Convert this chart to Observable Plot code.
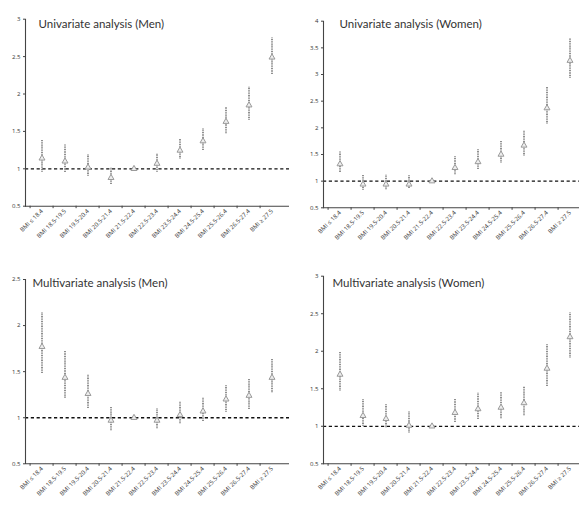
<!DOCTYPE html>
<html><head><meta charset="utf-8">
<script src="https://cdn.jsdelivr.net/npm/d3@7"></script>
<script src="https://cdn.jsdelivr.net/npm/@observablehq/plot@0.6"></script>
<style>
body{margin:0;background:#fff;}
#wrap{position:relative;width:579px;height:513px;overflow:hidden;background:#fff;}
.panel{position:absolute;overflow:hidden;}
</style></head><body><div id="wrap"></div>
<script>
const categories = ["BMI ≤ 18.4","BMI 18.5-19.5","BMI 19.5-20.4","BMI 20.5-21.4","BMI 21.5-22.4","BMI 22.5-23.4","BMI 23.5-24.4","BMI 24.5-25.4","BMI 25.5-26.4","BMI 26.5-27.4","BMI ≥ 27.5"];
const titles = ["Univariate analysis (Men)","Univariate analysis (Women)","Multivariate analysis (Men)","Multivariate analysis (Women)"];

const uniMenOR = [1.14,1.10,1.02,0.88,1.00,1.07,1.245,1.37,1.63,1.85,2.49];
const uniMenLo = [0.955,0.95,0.90,0.79,1.00,0.955,1.13,1.245,1.47,1.65,2.26];
const uniMenHi = [1.39,1.32,1.19,1.01,1.00,1.20,1.40,1.535,1.82,2.09,2.75];

const uniWomenOR = [1.32,0.94,0.94,0.94,1.00,1.25,1.36,1.50,1.67,2.37,3.26];
const uniWomenLo = [1.16,0.83,0.84,0.86,1.00,1.12,1.22,1.34,1.47,2.07,2.93];
const uniWomenHi = [1.55,1.11,1.11,1.10,1.00,1.46,1.59,1.75,1.95,2.77,3.67];

const multiMenOR = [1.77,1.435,1.26,0.97,1.00,0.97,1.03,1.07,1.20,1.24,1.435];
const multiMenLo = [1.48,1.21,1.10,0.86,1.00,0.88,0.935,0.96,1.06,1.09,1.27];
const multiMenHi = [2.14,1.72,1.47,1.116,1.00,1.10,1.17,1.21,1.35,1.42,1.64];

const multiWomenOR = [1.69,1.14,1.10,1.01,1.00,1.18,1.23,1.25,1.31,1.77,2.19];
const multiWomenLo = [1.47,1.00,0.98,0.91,1.00,1.05,1.09,1.10,1.14,1.53,1.91];
const multiWomenHi = [1.99,1.36,1.29,1.19,1.00,1.36,1.44,1.45,1.53,2.09,2.51];

const yTicksUniMen = [0.5,1,1.5,2,2.5,3];
const yTicksUniWomen = [0.5,1,1.5,2,2.5,3,3.5,4];
const yTicksMultiMen = [0.5,1,1.5,2,2.5];
const yTicksMultiWomen = [0.5,1,1.5,2,2.5,3];

const panels = [
  {title:titles[0], or:uniMenOR, lo:uniMenLo, hi:uniMenHi, ticks:yTicksUniMen,
   left:0, top:0, width:289, height:255, mTop:18.7, mBottom:49.3, mLeft:25, xEnd:287, tx:38, ty:27},
  {title:titles[1], or:uniWomenOR, lo:uniWomenLo, hi:uniWomenHi, ticks:yTicksUniWomen,
   left:289, top:0, width:290, height:255, mTop:20.7, mBottom:47.7, mLeft:34, xEnd:296, tx:50, ty:27},
  {title:titles[2], or:multiMenOR, lo:multiMenLo, hi:multiMenHi, ticks:yTicksMultiMen,
   left:0, top:255, width:289, height:258, mTop:24, mBottom:49.7, mLeft:25, xEnd:287, tx:32, ty:31},
  {title:titles[3], or:multiWomenOR, lo:multiWomenLo, hi:multiWomenHi, ticks:yTicksMultiWomen,
   left:289, top:255, width:290, height:258, mTop:20.7, mBottom:49.7, mLeft:34, xEnd:296, tx:43, ty:31}
];

const wrap = document.getElementById("wrap");
for (const p of panels) {
  const data = categories.map((c, i) => ({cat: c, or: p.or[i], lo: p.lo[i], hi: p.hi[i]}));
  const bw = (p.xEnd - p.mLeft) / categories.length;
  const chart = Plot.plot({
    width: p.width, height: p.height,
    marginLeft: p.mLeft, marginRight: 0, marginTop: p.mTop, marginBottom: p.mBottom,
    style: {fontFamily: "'Open Sans', sans-serif", background: "transparent", overflow: "visible"},
    x: {type: "band", domain: categories, range: [p.mLeft, p.xEnd], padding: 0, axis: null, label: null},
    y: {domain: [0.5, d3.max(p.ticks)], axis: null, label: null},
    marks: [
      Plot.ruleY([1], {stroke: "#111", strokeWidth: 1.3, strokeDasharray: "3.2,2.6"}),
      Plot.ruleX(data, {x: "cat", y1: "lo", y2: "hi", stroke: "#555", strokeWidth: 1.3, strokeDasharray: "1,0.7"}),
      Plot.dot(data, {x: "cat", y: "or", symbol: "triangle", r: 2.2, stroke: "#9a9a9a", fill: "#eeeeee", strokeWidth: 1}),
      Plot.frame({anchor: "left", stroke: "#444", strokeWidth: 1.1, strokeDasharray: "1,0.5"}),
      Plot.frame({anchor: "bottom", stroke: "#444", strokeWidth: 1.1, strokeDasharray: "1,0.5"}),
      Plot.axisY({ticks: p.ticks, tickFormat: d => String(d), tickSize: 2, tickPadding: 3, fontSize: 6, color: "#333", stroke: "#444", label: null}),
      Plot.axisX({tickRotate: -45, tickSize: 0, tickPadding: 4, fontSize: 6, color: "#333", label: null}),
      Plot.axisX({text: null, tickSize: 2.5, dx: -bw / 2, stroke: "#444", label: null}),
      Plot.text([p.title], {frameAnchor: "top-left", dx: p.tx - p.mLeft, dy: p.ty - p.mTop, textAnchor: "start", lineAnchor: "bottom", fontSize: 11.5, fill: "#333", fontFamily: "Lato, 'Open Sans', sans-serif"})
    ]
  });
  const div = document.createElement("div");
  div.className = "panel";
  div.style.left = p.left + "px";
  div.style.top = p.top + "px";
  div.style.width = p.width + "px";
  div.style.height = p.height + "px";
  div.appendChild(chart);
  wrap.appendChild(div);
}
</script></body></html>
